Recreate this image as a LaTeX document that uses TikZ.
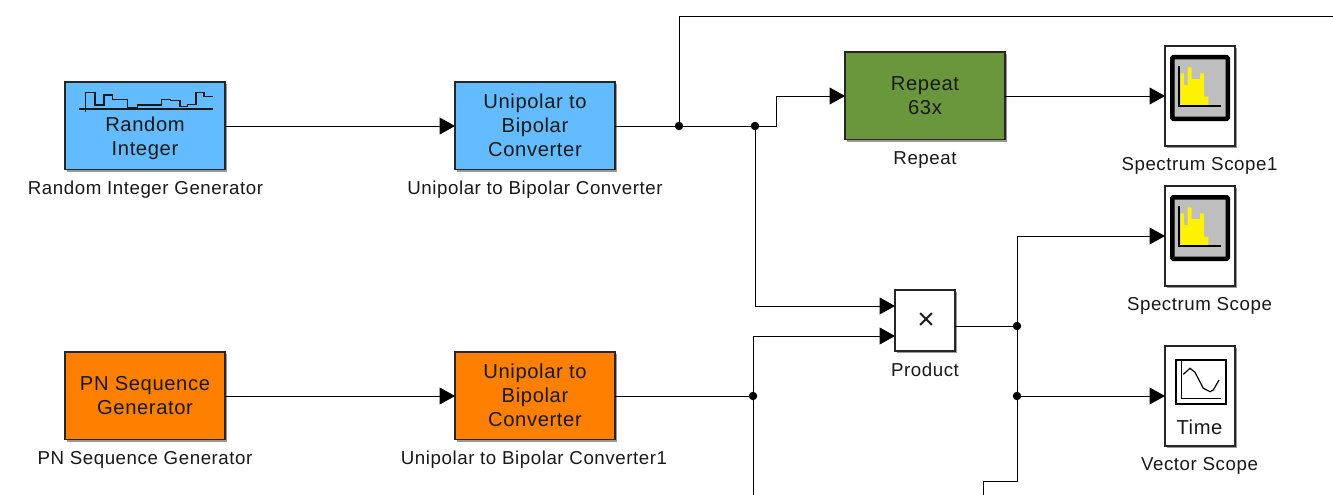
\documentclass[tikz,border=0pt]{standalone}
\usepackage{fontspec}
\setmainfont[LetterSpace=3]{Liberation Sans}
\usetikzlibrary{arrows.meta,shadows,calc}
\definecolor{skyb}{HTML}{62BCFF}
\definecolor{orng}{HTML}{FF8000}
\definecolor{grn}{HTML}{6A963C}
\definecolor{scopegray}{HTML}{BEBEBE}
\definecolor{edgec}{HTML}{262626}
\tikzset{
  x=1pt,y=-1pt,
  block/.style={draw=edgec,line width=1.5pt,inner sep=0pt,outer sep=0pt,anchor=north west,align=center,
    general shadow={fill=black!40,shadow xshift=2pt,shadow yshift=-2pt}},
  wide/.style={block,minimum width=160pt,minimum height=87.5pt},
  tall/.style={block,minimum width=70pt,minimum height=100pt,fill=white},
  btxt/.style={font=\fontsize{20.2}{24}\selectfont,align=center,inner sep=0pt,text=black!90},
  lbl/.style={font=\fontsize{18.7}{22}\selectfont,anchor=center,inner sep=0pt,text=black!90},
  wire/.style={draw=black,line width=1pt},
  sig/.style={wire,-{Triangle[length=15.5pt,width=17pt]}},
  jn/.style={circle,fill=black,inner sep=0pt,minimum size=8.5pt},
}
\begin{document}
\begin{tikzpicture}
\useasboundingbox[fill=white] (0,0) rectangle (1333,495);
% blocks
\node[wide,fill=skyb] (ri) at (65,82) {};
\node[btxt] (ritext) at (145,138) {Random\\Integer};
\node[wide,fill=skyb] (ub) at (455,82) {};
\node[btxt] (ubt) at (535,125) {Unipolar to\\Bipolar\\Converter};
\node[wide,fill=grn] (rep) at (845,52) {};
\node[btxt] (rept) at (925,95.5) {Repeat\\63x};
\node[tall] (ss1) at (1165,46) {};
\node[tall] (ss) at (1165,186) {};
\node[block,minimum width=60pt,minimum height=61pt,fill=white] (prod) at (895,290) {};
\node[font=\fontsize{30}{30}\selectfont,inner sep=0pt,text=black!90] (prodt) at (926,321) {×};
\node[tall] (vs) at (1165,346) {};
\node[wide,fill=orng] (pn) at (65,352) {};
\node[btxt] (pnt) at (145,395.5) {PN Sequence\\Generator};
\node[wide,fill=orng] (ub1) at (455,352) {};
\node[btxt] (ub1t) at (535,395) {Unipolar to\\Bipolar\\Converter};
% block labels
\node[lbl] (l1) at (145.5,190) {Random Integer Generator};
\node[lbl] (l2) at (535,190) {Unipolar to Bipolar Converter};
\node[lbl] (l3) at (925,160) {Repeat};
\node[lbl] (l4) at (1199.5,166) {Spectrum Scope1};
\node[lbl] (l5) at (1199.5,306) {Spectrum Scope};
\node[lbl] (l6) at (925,370) {Product};
\node[lbl] (l7) at (1199.5,466) {Vector Scope};
\node[lbl] (l8) at (145,460) {PN Sequence Generator};
\node[lbl] (l9) at (534,460) {Unipolar to Bipolar Converter1};
% random integer icon
\draw[line width=1.5pt,line join=miter,color=black!90]
  (79,109) -- (213,109)
  (85.7,112) -- (85.7,92.7) -- (95,92.7) -- (95,105) -- (104,105) -- (104,95) -- (112.3,95) -- (112.3,99.3) -- (127.3,99.3)
  -- (127.3,107.7) -- (137.3,107.7) -- (137.3,105) -- (161.7,105) -- (161.7,99.3) -- (170.7,99.3) -- (170.7,100.7) -- (180,100.7)
  -- (180,106.7) -- (187.3,106.7) -- (187.3,104.3) -- (196,104.3) -- (196,92.7) -- (204,92.7) -- (204,96.7) -- (212.7,96.7);
% spectrum scope icons
\foreach \nm in {ss1,ss}{
  \begin{scope}[shift={(\nm.north west)}]
    \draw[line width=4.5pt,fill=scopegray,rounded corners=1pt] (7.25,11.25) rectangle (62.75,72.75);
    \fill[yellow] (15.7,59.7) -- (15.7,27.3) -- (19,27.3) -- (19,39) -- (22.7,39) -- (22.7,21.3) -- (26.7,21.3) -- (26.7,33)
      -- (35,33) -- (35,27.3) -- (39,27.3) -- (39,50.7) -- (43.3,50.7) -- (43.3,59.7) -- cycle;
    \draw[line width=1.2pt] (14,20) -- (14,60) -- (56,60);
  \end{scope}
}
% time scope icon
\begin{scope}[shift={(vs.north west)}]
  \draw[line width=2pt,fill=white] (11,14.3) rectangle (61,58.3);
  \draw[line width=1.2pt] (16.7,14.3) -- (16.7,52.3) -- (56,52.3);
  \draw[line width=1.2pt] (18.3,28.3) -- (25,22.3) -- (30,26.3) -- (38.3,42.3) -- (45,45.7) -- (48.3,44) -- (54,34);
  \node[btxt] (vst) at (34.5,81) {Time};
\end{scope}
% junctions
\node[jn] (j1) at (679,126) {};
\node[jn] (j2) at (755,126) {};
\node[jn] (j3) at (753,396) {};
\node[jn] (j4) at (1017,326) {};
\node[jn] (j5) at (1017,396) {};
% free ends and ports
\coordinate (topend) at (1333,17);
\coordinate (bot3) at (753,495);
\coordinate (botend) at (983,495);
\coordinate (p1) at (895,306);
\coordinate (p2) at (895,336);
\coordinate (ssin1) at (1165,96);
\coordinate (ssin) at (1165,236);
\coordinate (vsin) at (1165,396);
\coordinate (repin) at (845,96);
\coordinate (rightbot) at (1017,481);
% connectors
\draw[sig] (ri.east |- j1) -- (ub.west |- j1);
\draw[sig] (pn.east |- j3) -- (ub1.west |- j3);
\draw[wire] (ub.east |- j1) -- (j1);
\draw[wire] (j1) -- (j2);
\draw[wire] (j1) -- (679,17) -- (topend);
\draw[sig] (j2) -- (776,126) -- (776,96) -- (repin);
\draw[sig] (j2) |- (p1);
\draw[sig] (rep.east |- repin) -- (ssin1);
\draw[wire] (ub1.east |- j3) -- (j3);
\draw[wire] (j3) -- (bot3);
\draw[sig] (j3) |- (p2);
\draw[wire] (prod.east |- j4) -- (j4);
\draw[sig] (j4) |- (ssin);
\draw[wire] (j4) -- (j5);
\draw[sig] (j5) -- (vsin);
\draw[wire] (j5) -- (rightbot) -- (983,481) -- (botend);
\end{tikzpicture}
\end{document}
